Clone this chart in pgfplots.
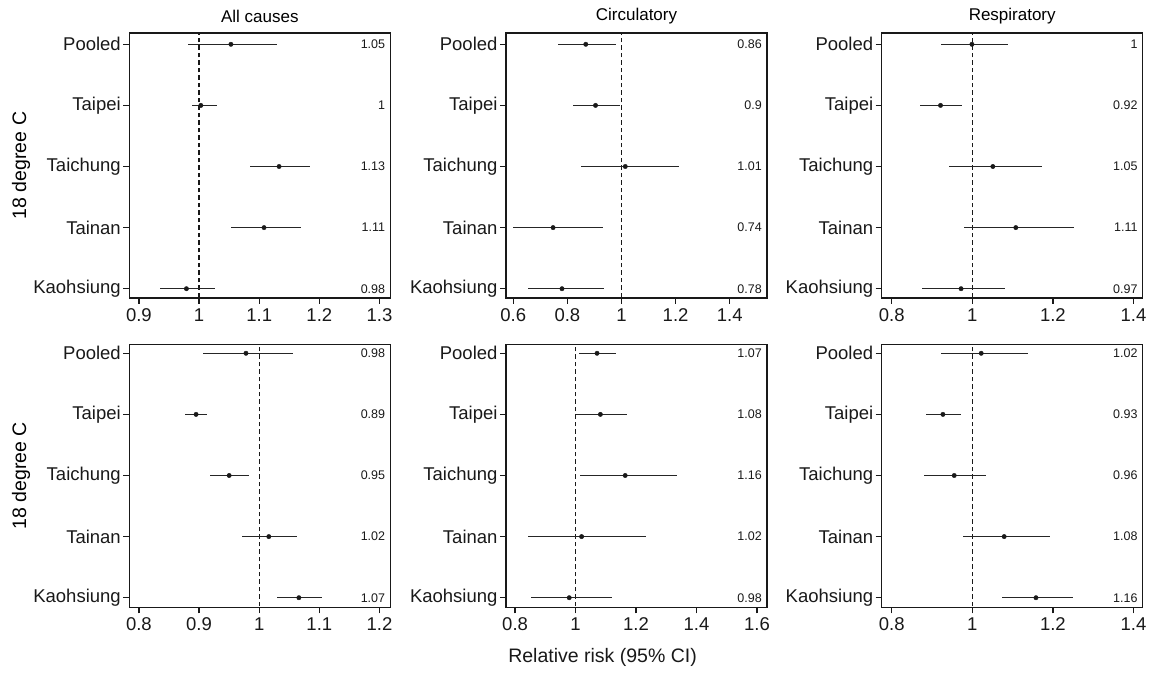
\documentclass[border=0pt]{standalone}
\usepackage{fontspec}
\setmainfont{Liberation Sans}
\usepackage{pgfplots}
\usepackage{pgfplotstable}
\pgfplotsset{compat=1.18}
\newcommand\tfont{\fontsize{18.5}{20}\selectfont}
\newcommand\vfont{\fontsize{12.5}{14}\selectfont}
\newcommand\hfont{\fontsize{17}{19}\selectfont}
\newcommand\lfont{\fontsize{19.5}{21}\selectfont}

% columns: y pt lo hi
\pgfplotstableread{
y pt lo hi
5 1.053 0.981 1.130
4 1.003 0.989 1.029
3 1.133 1.085 1.185
2 1.108 1.053 1.169
1 0.979 0.935 1.027
}\tA
\pgfplotstableread{
y pt lo hi
5 0.868 0.767 0.980
4 0.904 0.820 0.995
3 1.014 0.851 1.211
2 0.747 0.600 0.931
1 0.780 0.653 0.937
}\tB
\pgfplotstableread{
y pt lo hi
5 0.999 0.921 1.088
4 0.921 0.869 0.975
3 1.051 0.943 1.174
2 1.108 0.979 1.253
1 0.972 0.876 1.081
}\tC
\pgfplotstableread{
y pt lo hi
5 0.978 0.906 1.056
4 0.895 0.876 0.913
3 0.950 0.919 0.983
2 1.016 0.972 1.063
1 1.066 1.030 1.105
}\tD
\pgfplotstableread{
y pt lo hi
5 1.071 1.012 1.135
4 1.082 1.002 1.170
3 1.164 1.015 1.335
2 1.020 0.844 1.234
1 0.979 0.853 1.122
}\tE
\pgfplotstableread{
y pt lo hi
5 1.022 0.921 1.137
4 0.927 0.886 0.972
3 0.955 0.881 1.035
2 1.079 0.977 1.192
1 1.158 1.074 1.250
}\tF

\pgfplotsset{
  forest/.style={
    scale only axis, width=261pt,
    axis line style={line width=1.4pt, black!90},
    every tick/.style={line width=1.3pt, black!90},
    tick align=outside, major tick length=6pt,
    xtick pos=bottom, ytick pos=left,
    ytick={1,2,3,4,5},
    yticklabels={Kaohsiung,Tainan,Taichung,Taipei,Pooled},
    ticklabel style={font=\tfont, black!90},
    /pgf/number format/assume math mode=true,
    yticklabel style={xshift=1pt},
    xticklabel style={yshift=-1pt},
    title style={font=\hfont, anchor=center, yshift=-6pt},
    ylabel style={font=\lfont, anchor=center},
    clip=true,
  },
  toprow/.style={height=265pt, ymin=0.848, ymax=5.185,
    title style={at={(axis description cs:0.5,1.064)}}},
  botrow/.style={height=263pt, ymin=0.843, ymax=5.147},
  ci/.style={only marks, mark=*, mark size=2.2pt, black!90,
    error bars/.cd, x dir=both, x explicit, error mark=none,
    error bar style={line width=1.5pt, black!85}},
}
\newcommand\ciplot[1]{%
  \addplot[black!90, dash pattern=on 4.5pt off 3pt, line width=1.3pt] coordinates {(1,0) (1,6)};
  \addplot[ci] table[x=pt, y=y,
    x error plus expr=\thisrow{hi}-\thisrow{pt},
    x error minus expr=\thisrow{pt}-\thisrow{lo}] {#1};
}
\newcommand\vlab[2]{\node[anchor=east, font=\vfont, black!90, inner sep=0pt, xshift=-5pt] at ({rel axis cs:1,0}|-{axis cs:1,#1}) {#2};}

\begin{document}
\begin{tikzpicture}
\useasboundingbox (0,0) rectangle (1150pt,674pt);

% ---------- top row ----------
\begin{axis}[forest, toprow, at={(129.3pt,376pt)}, anchor=south west,
  xmin=0.884, xmax=1.318, xtick={0.9,1,1.1,1.2,1.3},
  title={All causes}, ylabel={18 degree C},
  ylabel style={at={(axis description cs:-0.415,0.5)}}]
\ciplot{\tA}
\vlab{5}{1.05}\vlab{4}{1}\vlab{3}{1.13}\vlab{2}{1.11}\vlab{1}{0.98}
\end{axis}

\begin{axis}[forest, toprow, at={(506pt,376pt)}, anchor=south west,
  xmin=0.573, xmax=1.538, xtick={0.6,0.8,1,1.2,1.4},
  title={Circulatory}]
\ciplot{\tB}
\vlab{5}{0.86}\vlab{4}{0.9}\vlab{3}{1.01}\vlab{2}{0.74}\vlab{1}{0.78}
\end{axis}

\begin{axis}[forest, toprow, at={(881.7pt,376pt)}, anchor=south west,
  xmin=0.775, xmax=1.423, xtick={0.8,1,1.2,1.4},
  title={Respiratory}]
\ciplot{\tC}
\vlab{5}{1}\vlab{4}{0.92}\vlab{3}{1.05}\vlab{2}{1.11}\vlab{1}{0.97}
\end{axis}

% ---------- bottom row ----------
\begin{axis}[forest, botrow, at={(129.3pt,66.7pt)}, anchor=south west,
  xmin=0.784, xmax=1.218, xtick={0.8,0.9,1,1.1,1.2},
  ylabel={18 degree C},
  ylabel style={at={(axis description cs:-0.415,0.5)}}]
\ciplot{\tD}
\vlab{5}{0.98}\vlab{4}{0.89}\vlab{3}{0.95}\vlab{2}{1.02}\vlab{1}{1.07}
\end{axis}

\begin{axis}[forest, botrow, at={(506pt,66.7pt)}, anchor=south west,
  xmin=0.770, xmax=1.633, xtick={0.8,1,1.2,1.4,1.6},
  xlabel={Relative risk (95\% CI)},
  xlabel style={font=\lfont, black!90, at={(axis description cs:0.370,-0.189)}, anchor=center}]
\ciplot{\tE}
\vlab{5}{1.07}\vlab{4}{1.08}\vlab{3}{1.16}\vlab{2}{1.02}\vlab{1}{0.98}
\end{axis}

\begin{axis}[forest, botrow, at={(881.7pt,66.7pt)}, anchor=south west,
  xmin=0.775, xmax=1.423, xtick={0.8,1,1.2,1.4}]
\ciplot{\tF}
\vlab{5}{1.02}\vlab{4}{0.93}\vlab{3}{0.96}\vlab{2}{1.08}\vlab{1}{1.16}
\end{axis}
\end{tikzpicture}
\end{document}
